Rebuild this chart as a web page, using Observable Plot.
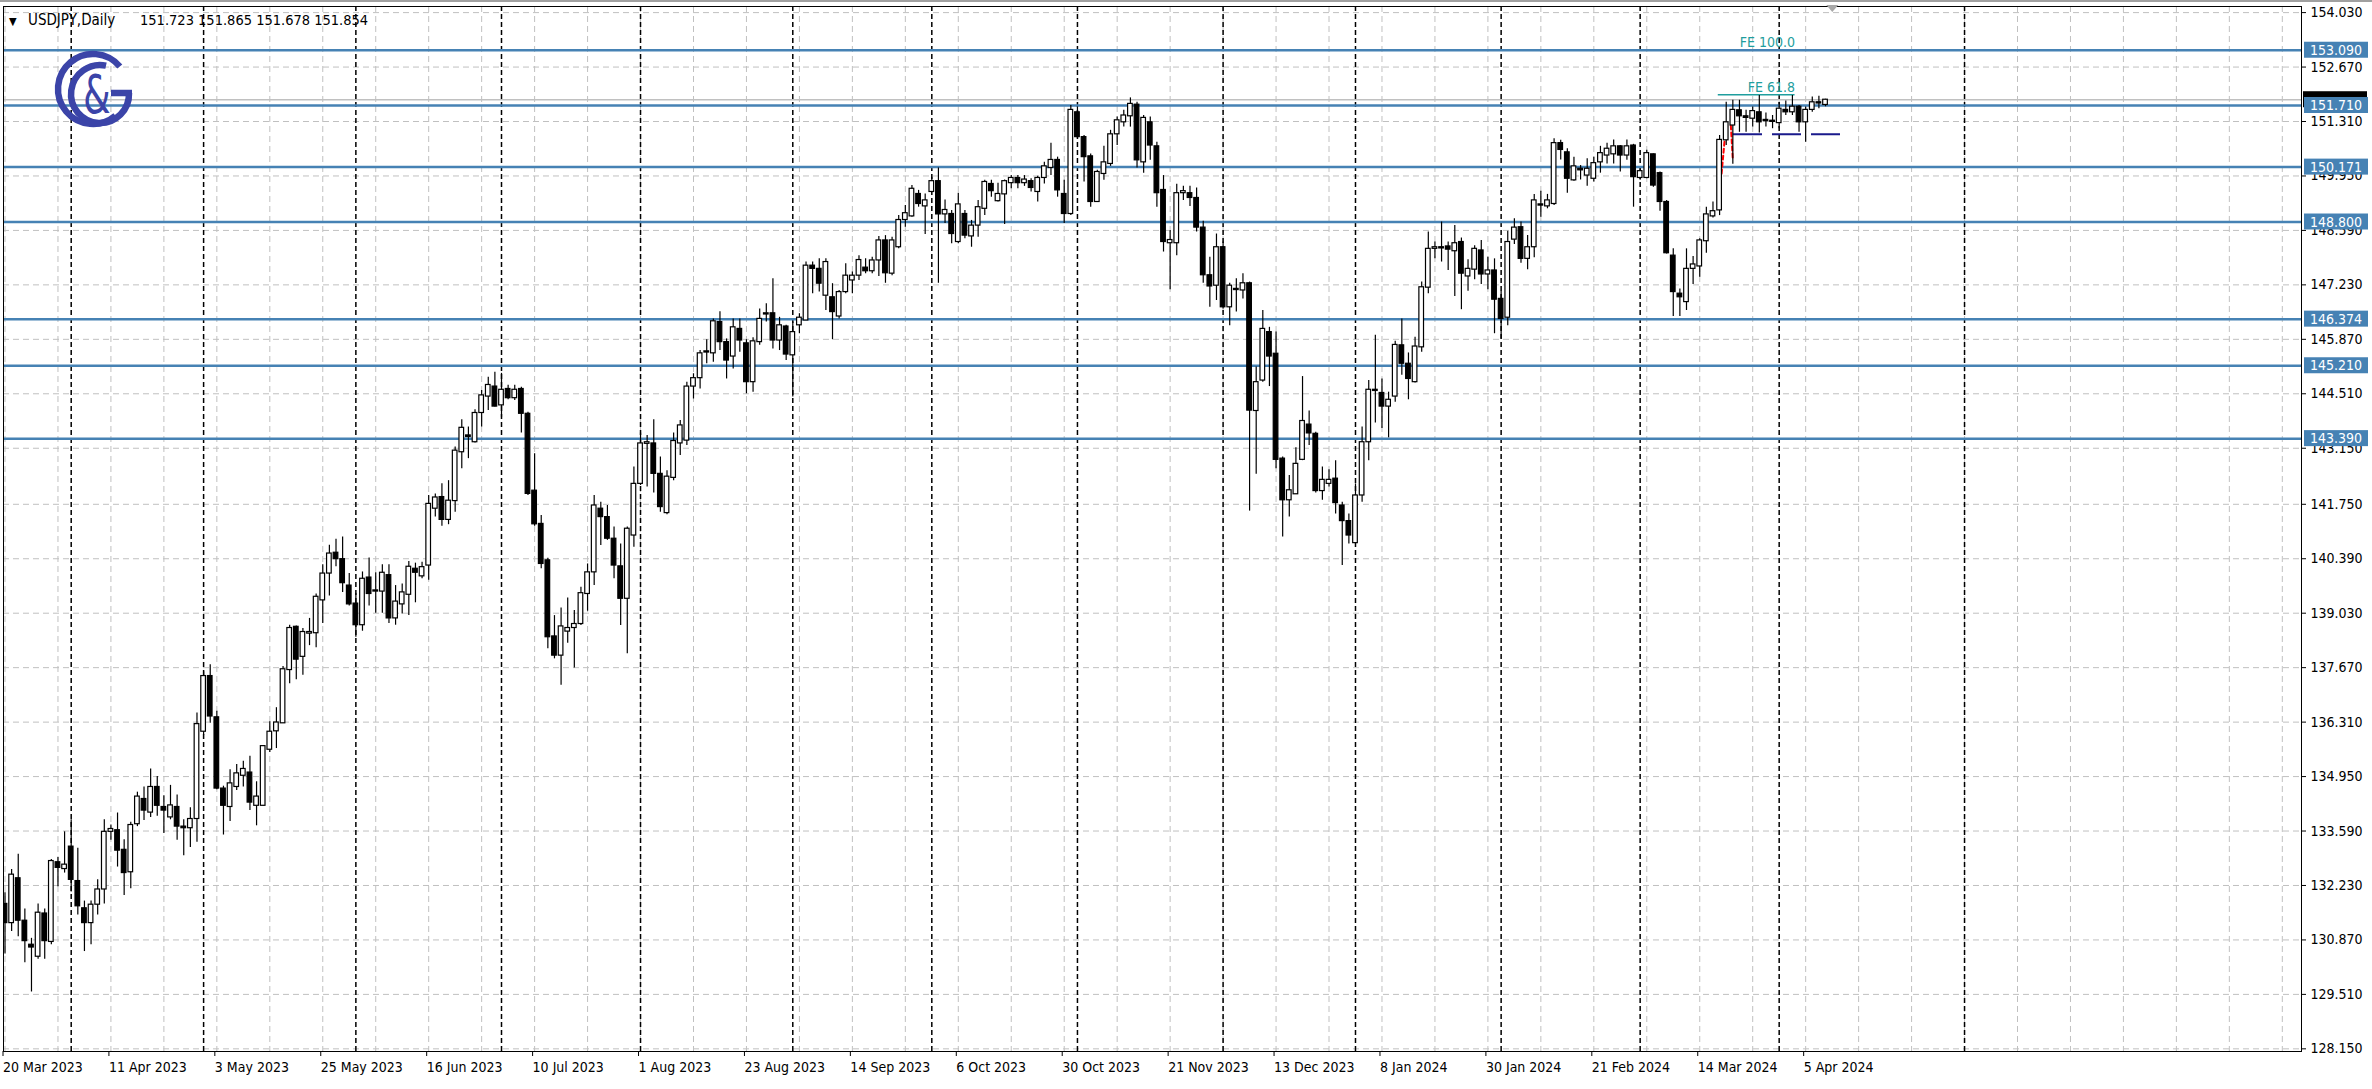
<!DOCTYPE html>
<html><head><meta charset="utf-8">
<script src="https://cdn.jsdelivr.net/npm/d3@7"></script>
<script src="https://cdn.jsdelivr.net/npm/@observablehq/plot@0.6"></script>
<style>
html,body{margin:0;padding:0;background:#fff;}
#chart{width:2372px;height:1089px;overflow:hidden;}
</style></head><body><div id="chart"></div>
<script>
// ---- Daily OHLC, bar index 0 = 20 Mar 2023 ... 275 = 10 Apr 2024 ----
const open = [131.77,131.29,132.41,131.35,130.75,130.45,131.53,130.82,132.81,132.64,
133.2,132.34,131.66,131.29,131.75,132.13,133.57,133.61,133.12,132.56,
133.76,134.39,134.05,134.69,134.19,133.93,134.19,133.70,133.66,133.89,
136.07,137.46,136.43,134.65,134.19,134.69,134.97,135.05,134.22,134.22,
135.62,136.08,136.28,137.61,138.69,137.94,138.52,138.53,139.35,140.02,
140.54,140.38,139.72,139.27,138.73,139.92,139.59,139.57,139.98,138.90,
139.25,139.49,140.14,139.95,140.22,141.64,141.93,141.36,141.83,143.05,
143.47,143.30,144.03,144.44,144.69,144.22,144.63,144.40,144.63,144.01,
142.09,141.26,140.35,138.45,137.97,138.57,138.66,138.76,139.51,140.05,
141.64,141.43,140.89,140.20,139.39,140.97,142.26,143.26,143.27,142.51,
141.53,142.41,143.27,143.34,144.69,144.90,145.54,145.52,146.30,145.80,
145.44,146.13,145.77,144.80,145.80,146.49,146.52,145.84,146.19,145.47,
146.22,146.34,147.71,147.63,146.96,146.92,146.44,147.05,147.34,147.46,
147.66,147.57,147.84,148.34,147.51,148.17,148.85,148.94,149.50,149.19,
149.55,149.82,148.99,149.00,148.30,149.00,148.44,148.71,149.13,149.75,
149.32,149.49,149.77,149.90,149.77,149.82,149.55,149.90,150.15,150.35,
149.50,149.00,151.54,150.92,150.44,149.30,150.00,150.25,150.99,151.29,
151.44,151.73,150.29,151.29,150.69,149.60,148.27,148.27,149.52,149.52,
149.40,148.66,147.47,147.21,148.17,146.67,147.13,147.09,147.27,144.08,
144.84,146.05,145.51,142.89,141.85,142.00,142.86,143.74,143.51,142.08,
142.26,142.39,141.72,141.33,140.78,141.97,143.30,144.61,144.53,144.19,
144.44,145.72,145.26,144.80,145.67,147.16,148.13,148.17,148.19,148.07,
148.30,147.44,147.61,148.09,147.49,147.59,146.88,146.41,148.36,148.67,
147.88,148.17,149.24,149.19,149.25,150.77,150.54,149.84,150.13,149.96,
149.88,150.29,150.46,150.49,150.69,150.46,150.71,149.90,149.90,150.49,
150.02,149.30,147.96,147.01,146.80,147.63,147.69,148.32,148.94,149.09,
150.84,151.21,151.59,151.44,151.38,151.54,151.35,151.33,151.27,151.60,
151.54,151.68,151.29,151.60,151.79,151.723];
const high = [132.05,132.63,133.01,131.64,130.91,131.77,131.64,132.88,132.93,133.57,
133.87,133.16,131.84,131.84,132.37,133.87,133.74,134.04,133.37,133.81,
134.56,134.69,135.14,134.95,134.47,134.73,134.49,133.87,134.17,136.54,
137.57,137.74,136.58,134.71,135.12,135.25,135.33,135.46,134.82,135.72,
136.32,136.67,137.70,138.73,138.71,138.65,138.90,139.51,140.24,140.73,
140.88,140.93,140.02,139.52,140.06,140.41,140.04,140.24,140.24,139.72,
139.76,140.32,140.28,140.30,141.97,142.01,142.26,142.34,143.18,143.86,
143.68,144.11,144.59,144.92,145.05,145.02,144.72,144.72,144.67,144.05,
143.01,141.47,140.40,138.97,139.16,139.41,139.10,139.68,140.26,141.97,
141.80,141.72,141.18,140.76,141.18,142.68,143.53,143.47,143.86,142.93,
142.59,143.53,143.84,144.80,145.01,145.59,145.86,146.38,146.56,145.88,
146.38,146.38,145.86,145.91,146.63,146.76,147.38,146.42,146.22,146.30,
146.51,147.80,147.80,147.88,147.88,147.26,147.09,147.76,147.55,147.96,
147.88,147.92,148.44,148.46,148.42,148.96,149.21,149.71,149.59,149.50,
149.92,150.15,149.35,149.09,149.52,149.09,148.84,149.34,149.84,149.84,
149.77,149.85,149.96,149.96,149.96,149.88,149.94,150.29,150.77,150.42,
149.84,151.71,151.67,150.96,150.50,150.09,150.69,151.09,151.42,151.59,
151.90,151.79,151.46,151.42,150.79,149.96,148.59,149.74,149.69,149.69,
149.65,148.82,147.92,148.50,148.30,147.27,147.38,147.51,147.30,145.18,
146.59,146.17,146.05,142.93,142.47,143.16,144.94,144.08,143.55,142.68,
142.61,142.84,141.80,141.51,142.26,143.68,144.84,145.97,144.88,144.55,
145.82,146.38,145.53,145.92,147.30,148.55,148.30,148.80,148.30,148.71,
148.40,147.86,148.21,148.34,147.92,147.88,147.07,148.57,148.88,148.80,
148.46,149.49,149.57,149.49,150.88,150.84,150.63,150.42,150.21,150.38,
150.42,150.69,150.77,150.85,150.71,150.85,150.74,150.13,150.59,150.50,
150.05,149.34,148.13,147.13,148.13,147.94,148.38,149.17,149.30,150.96,
151.79,151.84,151.84,151.59,151.67,151.96,151.52,151.46,151.79,151.82,
151.96,151.71,151.67,151.92,151.94,151.865];
const low = [130.52,131.08,130.95,130.30,129.57,130.39,130.39,130.75,132.20,132.54,
132.07,131.49,130.58,130.75,131.49,131.77,133.36,132.69,131.98,132.15,
133.70,133.85,133.93,133.96,133.53,133.87,133.36,132.97,133.18,133.31,
135.98,136.28,134.62,133.49,133.83,134.60,134.69,134.10,133.72,134.22,
135.55,135.65,136.28,137.27,137.37,137.48,138.22,138.17,138.77,139.46,
140.19,139.55,139.21,138.43,138.58,139.21,139.03,139.03,138.77,138.73,
139.01,138.97,139.29,139.89,139.85,141.43,141.20,141.24,141.55,142.64,
142.89,143.28,143.68,144.09,144.18,143.92,144.36,144.34,143.53,141.97,
141.20,140.14,138.14,137.89,137.23,138.28,137.66,138.72,139.08,139.72,
140.72,140.85,139.89,138.72,138.02,140.68,142.22,142.18,142.03,141.55,
141.49,142.34,142.97,143.22,144.38,144.63,145.26,145.30,145.59,144.88,
145.13,145.55,144.51,144.55,145.72,146.30,145.63,145.59,145.34,144.43,
146.01,146.34,147.01,147.05,146.59,145.86,146.38,147.01,147.01,147.34,
147.51,147.51,147.44,147.27,147.46,148.13,148.67,148.92,149.17,148.49,
149.55,147.27,148.76,148.26,148.26,148.38,148.17,148.42,148.96,149.42,
149.30,148.74,149.63,149.63,149.69,149.55,149.30,149.75,149.96,149.42,
148.76,148.96,150.88,149.80,149.17,149.30,149.84,150.19,150.71,151.17,
151.17,150.15,150.02,150.34,149.17,148.05,147.11,147.96,149.34,149.19,
148.55,147.27,146.67,146.84,146.63,146.21,146.55,146.88,141.58,142.50,
144.80,144.69,142.64,140.93,141.43,142.00,142.84,143.22,142.03,141.85,
142.18,141.51,140.22,140.76,140.76,141.80,142.84,143.78,143.64,143.41,
144.30,144.97,144.36,144.78,145.55,147.01,147.88,147.80,147.59,146.94,
146.61,147.07,147.36,147.24,147.11,146.01,145.88,146.21,148.24,147.77,
147.61,147.91,148.92,149.13,149.21,150.35,149.52,149.82,149.85,149.69,
149.80,150.02,150.25,150.25,150.05,150.34,149.17,149.84,149.88,149.67,
149.07,148.00,146.44,146.44,146.59,147.24,147.42,148.02,148.90,148.96,
150.71,150.24,151.04,151.04,151.17,151.02,151.17,151.13,151.13,151.46,
151.46,151.04,150.79,151.54,151.63,151.678];
const close = [131.29,132.50,131.35,130.84,130.68,131.55,130.84,132.84,132.67,132.75,
132.37,131.71,131.29,131.75,132.13,133.57,133.64,133.10,132.54,133.74,
134.45,134.10,134.69,134.22,134.10,134.23,133.70,133.66,133.89,136.26,
137.46,136.45,134.65,134.22,134.78,135.03,135.14,134.30,134.45,135.71,
136.07,136.30,137.63,138.66,137.87,138.56,138.56,139.44,140.02,140.52,
140.38,139.78,139.25,138.73,139.89,139.51,139.60,140.04,138.90,139.32,
139.55,140.19,140.04,140.18,141.76,141.92,141.36,141.84,143.09,143.66,
143.43,144.03,144.47,144.73,144.19,144.61,144.40,144.61,144.01,142.01,
141.25,140.26,138.43,137.97,138.70,138.66,138.76,139.53,140.05,141.72,
141.43,140.89,140.22,139.39,141.14,142.26,143.27,143.30,142.51,141.68,
142.44,143.33,143.72,144.69,144.90,145.52,145.57,146.32,145.80,145.34,
146.17,145.84,144.80,145.82,146.38,146.52,145.84,146.22,145.49,146.05,
146.41,147.71,147.63,147.26,147.80,146.55,147.05,147.46,147.46,147.85,
147.57,147.84,148.34,147.52,148.34,148.85,149.02,149.63,149.25,149.34,
149.82,148.99,149.10,148.50,149.24,148.46,148.71,149.17,149.80,149.57,
149.50,149.82,149.90,149.77,149.86,149.65,149.90,150.19,150.35,149.59,
149.00,151.60,150.92,150.42,149.30,150.05,150.29,150.99,151.34,151.46,
151.75,150.34,151.40,150.71,149.52,148.30,148.35,149.52,149.57,149.40,
148.66,147.47,147.19,148.17,146.67,147.21,147.11,147.27,144.09,144.80,
146.13,145.44,142.86,141.85,142.10,142.76,143.83,143.52,142.08,142.36,
142.36,141.78,141.33,140.97,141.97,143.30,144.61,144.58,144.19,144.36,
145.73,145.26,144.88,145.69,147.17,148.13,148.17,148.16,148.11,148.27,
147.51,147.63,148.13,147.49,147.59,146.86,146.38,148.30,148.66,147.88,
148.17,149.34,149.22,149.34,150.77,150.60,149.88,150.19,150.09,150.13,
150.27,150.52,150.63,150.69,150.46,150.69,149.92,150.07,150.52,149.71,
149.30,148.02,147.05,146.92,147.63,147.74,148.34,148.99,149.07,150.85,
151.29,151.60,151.44,151.40,151.57,151.29,151.32,151.31,151.63,151.54,
151.68,151.29,151.60,151.79,151.77,151.854];

// ---- axis text ----
const dateLabels = ["20 Mar 2023","11 Apr 2023","3 May 2023","25 May 2023","16 Jun 2023","10 Jul 2023",
"1 Aug 2023","23 Aug 2023","14 Sep 2023","6 Oct 2023","30 Oct 2023","21 Nov 2023","13 Dec 2023",
"8 Jan 2024","30 Jan 2024","21 Feb 2024","14 Mar 2024","5 Apr 2024"];
const dateLabelIdx = [0,16,32,48,64,80,96,112,128,144,160,176,192,208,224,240,256,272];
const monthStartIdx = [10,30,53,75,96,119,140,162,184,204,226,247,268,296];
const priceTicks = [154.03,152.67,151.31,149.95,148.59,147.23,145.87,144.51,143.15,141.75,
140.39,139.03,137.67,136.31,134.95,133.59,132.23,130.87,129.51,128.15];

// ---- drawn objects ----
const levels = [153.090,151.710,150.171,148.800,146.374,145.210,143.390];
const feLevels = [{label:"FE 100.0", price:153.09}, {label:"FE 61.8", price:151.98}];
const feSpan = [258.8, 270.4];
const navyLevel = {price:150.99, from:261.1, to:277.3};
const redPath = [
  {seg:0, i:259.3, p:150.01},{seg:0, i:260.0, p:151.28},
  {seg:1, i:260.7, p:151.21},{seg:1, i:261.0, p:150.34}];
const symbol = "USDJPY,Daily";
const lastIdx = open.length - 1;
const header = [open[lastIdx], high[lastIdx], low[lastIdx], close[lastIdx]];
const chartShiftIdx = 276.1;
const xDomainEnd = 346.9;

const bars = open.map((o,i)=>({i, o, h:high[i], l:low[i], c:close[i],
  top: Math.max(o, close[i]), bot: Math.min(Math.min(o, close[i]), Math.max(o, close[i]) - 0.03)}));
const up = bars.filter(d => d.c >= d.o);
const dn = bars.filter(d => d.c < d.o);

const FONT = '"DejaVu Sans Condensed","DejaVu Sans",sans-serif';
const BLUE = "#4682b4";
const TEAL = "#1f9e9e";
const gridIdx = d3.range(0, 345, 8);

const plot = Plot.plot({
  width: 2372, height: 1089,
  marginLeft: 3, marginRight: 71, marginTop: 6, marginBottom: 38,
  style: {fontFamily: FONT, fontSize: "14px", background: "#fff", color: "#000", fontStretch: "condensed"},
  x: {type: "linear", domain: [-0.2266, xDomainEnd]},
  y: {type: "linear", domain: [128.0835, 154.1823]},
  marks: [
    Plot.gridY(priceTicks, {stroke: "#c0c0c0", strokeOpacity: 1, strokeDasharray: "6,4"}),
    Plot.gridX(gridIdx, {stroke: "#c0c0c0", strokeOpacity: 1, strokeDasharray: "6,4"}),
    Plot.ruleX(monthStartIdx, {stroke: "#000", strokeWidth: 1.5, strokeDasharray: "5,3"}),
    Plot.ruleY([close[lastIdx]], {stroke: "#c0c0c0", strokeWidth: 1.5}),
    Plot.ruleY(feLevels, {y: "price", x1: feSpan[0], x2: feSpan[1], stroke: TEAL, strokeWidth: 1.5}),
    Plot.ruleY(levels, {stroke: BLUE, strokeWidth: 2.5}),
    Plot.ruleY([navyLevel], {y: "price", x1: "from", x2: "to", stroke: "#1a1a8c", strokeWidth: 2, strokeDasharray: "29,10"}),
    Plot.line(redPath, {x: "i", y: "p", z: "seg", stroke: "#ff0000", strokeWidth: 2, strokeDasharray: "4,3"}),
    Plot.ruleX(bars, {x: "i", y1: "l", y2: "h", stroke: "#000", strokeWidth: 1.2, clip: true}),
    Plot.rect(up, {x1: d => d.i - 0.35, x2: d => d.i + 0.35, y1: "bot", y2: "top", fill: "#fff", stroke: "#000", strokeWidth: 1.2, clip: true}),
    Plot.rect(dn, {x1: d => d.i - 0.35, x2: d => d.i + 0.35, y1: "bot", y2: "top", fill: "#000", stroke: "#000", strokeWidth: 1.2, clip: true}),
    Plot.text(feLevels, {x: feSpan[1], y: "price", text: "label", textAnchor: "end", lineAnchor: "bottom", dy: -3, fill: TEAL, fontSize: 14}),
    Plot.axisY(priceTicks, {anchor: "right", tickFormat: d => d.toFixed(3), tickSize: 4, tickPadding: 5, fontSize: 14, label: null}),
    Plot.axisX(dateLabelIdx, {anchor: "bottom", tickFormat: d => dateLabels[dateLabelIdx.indexOf(d)], textAnchor: "start", dx: -2, tickSize: 5, tickPadding: 6, fontSize: 14, label: null}),
    Plot.frame({stroke: "#000", strokeWidth: 1})
  ]
});
document.getElementById("chart").appendChild(plot);

// ---- overlays using the plot's scales ----
const svg = d3.select(plot);
const ys = plot.scale("y"), xs = plot.scale("x");
const axX = xs.range[1];
// window top edge
svg.append("line").attr("x1", 0).attr("x2", 2372).attr("y1", 1).attr("y2", 1).attr("stroke", "#a0a0a0").attr("stroke-width", 2);
// bid price box (mostly hidden)
svg.append("rect").attr("x", axX + 2).attr("y", ys.apply(close[lastIdx]) - 8).attr("width", 64).attr("height", 16).attr("fill", "#000");
// level tags
const tags = svg.append("g").attr("font-family", FONT).attr("font-size", 14).attr("text-anchor", "start").style("font-stretch", "condensed");
levels.forEach(v => {
  const y = ys.apply(v);
  tags.append("rect").attr("x", axX + 3).attr("y", y - 8).attr("width", 64).attr("height", 16).attr("fill", BLUE);
  tags.append("text").attr("x", axX + 9).attr("y", y).attr("dy", "0.36em").attr("text-anchor", "start").attr("fill", "#fff").text(v.toFixed(3));
});
// chart shift marker
const sx = xs.apply(chartShiftIdx);
svg.append("path").attr("d", `M${sx-6},5L${sx+6},5L${sx},12Z`).attr("fill", "#a8a8a8");
// header text
const hdr = svg.append("text").attr("y", 20).attr("dy", "0.36em").attr("text-anchor", "start");
hdr.append("tspan").attr("x", 9).attr("font-family", "DejaVu Sans").attr("font-size", 11).text("\u25BC");
hdr.append("tspan").attr("x", 28).attr("font-family", "DejaVu Sans").attr("font-size", 15).text(symbol);
hdr.append("tspan").attr("x", 140).attr("font-family", FONT).attr("font-size", 14.5).style("font-stretch", "condensed")
  .text(header.map(d => d.toFixed(3)).join(" "));
// logo
const LOGO = "#3b44a8";
const logo = svg.append("g").attr("fill", "none").attr("stroke", LOGO).attr("stroke-width", 6.5);
const pt = (cx, cy, r, deg) => [cx + r*Math.cos(deg*Math.PI/180), cy + r*Math.sin(deg*Math.PI/180)];
{
  const a = pt(93, 89, 35, -40), b = pt(93, 89, 35, 50);
  logo.append("path").attr("d", `M${a[0]},${a[1]}A35,35 0 1 0 ${b[0]},${b[1]}`);
  const g0 = pt(100, 94, 29, 0), g1 = pt(100, 94, 29, -78);
  logo.append("path").attr("d", `M111,93L${g0[0]+3},93M${g0[0]},93A29,29 0 1 1 ${g1[0]},${g1[1]}`);
}
logo.append("text").attr("transform", "translate(97,94) scale(0.72,1)").attr("dy", "0.36em").attr("text-anchor", "middle")
  .attr("stroke", "none").attr("fill", LOGO).attr("font-family", "DejaVu Sans").attr("font-size", 54).text("&");
</script></body></html>
